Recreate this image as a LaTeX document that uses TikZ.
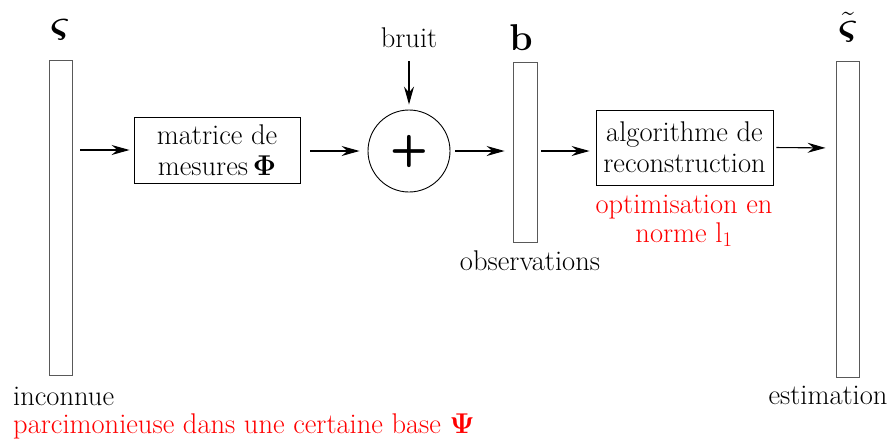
\documentclass[tikz,border=0pt]{standalone}
\usepackage{amsmath,amssymb}
\usetikzlibrary{arrows.meta}
\newcommand{\scmath}[2]{\scalebox{#1}{$#2$}}
\begin{document}
\begin{tikzpicture}[x=1pt,y=-1pt,
  txt/.style={font=\fontsize{28.5}{32}\selectfont, inner sep=0pt},
  redtxt/.style={txt, text=red},
  bar/.style={draw=black!65, line width=0.9pt, minimum width=23pt, inner sep=0pt},
  blockbox/.style={draw, line width=0.9pt, inner sep=0pt, align=center, font=\fontsize{28.5}{31}\selectfont},
  sumnode/.style={draw, circle, line width=0.9pt, minimum size=82pt, inner sep=0pt},
  biglbl/.style={inner sep=0pt, font=\fontsize{24.88}{28}\selectfont},
  arr/.style={-{Stealth[length=18pt,width=10pt,inset=6pt]}, line width=1.1pt}
]
\useasboundingbox (0,0) rectangle (893,442);
% bars
\node[bar, minimum height=315pt] (s) at (60.5,217.5) {};
\node[bar, minimum height=180pt, minimum width=24pt] (b) at (525,152) {};
\node[bar, minimum height=316pt] (e) at (847.5,219) {};
% labels above bars
\node[biglbl] (sl) at (60,30) {\scmath{1.55}{\boldsymbol{\varsigma}}};
\node[biglbl] (bl) at (521,38) {\scmath{1.5}{\mathbf{b}}};
\node[biglbl] (el) at (848,27) {\scmath{1.55}{\tilde{\boldsymbol{\varsigma}}}};
% blocks
\node[blockbox, minimum width=166pt, minimum height=66pt] (m) at (217,150) {matrice de\\mesures\,\scmath{1.15}{\boldsymbol{\Phi}}};
\node[sumnode] (c) at (409,151) {};
\node[inner sep=0pt, font=\fontsize{44}{44}\selectfont\sffamily\bfseries] (plus) at (c) {+};
\node[blockbox, minimum width=177pt, minimum height=75pt] (a) at (684.5,147.5) {algorithme de\\reconstruction};
% texts
\node[txt, anchor=base] (br) at (409,47) {bruit};
\node[txt, anchor=base] (ob) at (530,270) {observations};
\node[redtxt, anchor=base] (o1) at (684,213) {optimisation en};
\node[redtxt, anchor=base] (o2) at (684,242) {norme l$_1$};
\node[txt, anchor=base west] (in) at (13,405) {inconnue};
\node[redtxt, anchor=base west] (pa) at (13,433) {parcimonieuse dans une certaine base \scmath{1.15}{\boldsymbol{\Psi}}};
\node[txt, anchor=base] (es) at (828,404) {estimation};
% arrows
\draw[arr, shorten <=8pt, shorten >=4pt] (s.east |- m.west) -- (m.west);
\draw[arr, shorten <=10pt, shorten >=8pt] (m.east |- c.west) -- (c.west);
\draw[arr, shorten <=6pt, shorten >=5pt] (br.south |- 0,55) -- (c.north);
\draw[arr, shorten <=5pt, shorten >=8pt] (c.east) -- (b.west |- c.east);
\draw[arr, shorten <=4pt, shorten >=6pt] (b.east |- c.east) -- (a.west |- c.east);
\draw[arr, shorten <=3pt, shorten >=10pt] (a.east) -- (e.west |- 0,148);
\end{tikzpicture}
\end{document}
